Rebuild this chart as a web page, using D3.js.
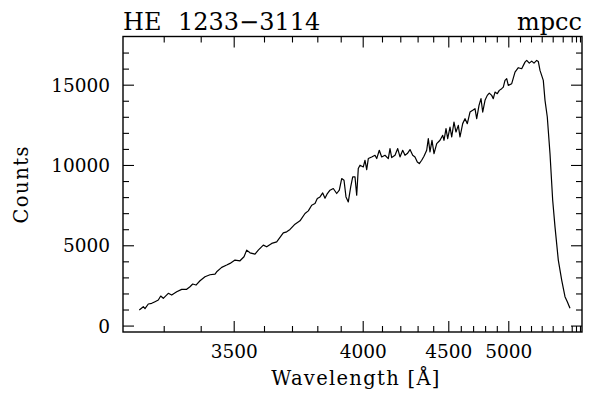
<!DOCTYPE html>
<html>
<head>
<meta charset="utf-8">
<script src="https://cdn.jsdelivr.net/npm/d3@7"></script>
<style>
  html, body { margin: 0; padding: 0; background: #fff; }
  svg { display: block; }
  text { font-family: "DejaVu Serif", serif; fill: #000; }
</style>
</head>
<body>
<svg id="chart" width="589" height="393"></svg>
<script>
// Objective-prism spectrum: counts per plate pixel
const specPixel = [
  5.43, 6.77, 7.33, 8.43, 9.57, 10.67, 11.77, 12.57, 13.43, 15.1,
  16.23, 17.9, 19.57, 21.23, 22.33, 23.23, 24.33, 25.67, 27.33, 29.0,
  30.67, 31.23, 32.9, 34.57, 35.67, 37.33, 39.0, 40.33, 41.23, 42.33,
  44.0, 45.1, 46.77, 47.9, 49.57, 51.23, 52.33, 53.43, 54.57, 55.67,
  57.33, 59.0, 60.67, 61.77, 62.9, 64.0, 64.77, 65.67, 66.57, 67.33,
  68.0, 69.0, 70.1, 71.23, 72.1, 72.9, 73.67, 74.33, 75.1, 75.9,
  76.57, 77.33, 77.9, 78.43, 79.0, 80.1, 80.67, 81.23, 81.77, 82.9,
  84.0, 84.57, 85.43, 86.23, 87.33, 88.43, 89.0, 89.57, 90.67, 91.57,
  92.33, 93.23, 94.0, 94.77, 95.67, 96.57, 97.33, 98.1, 98.77, 99.57,
  100.33, 101.23, 101.77, 102.33, 103.0, 103.67, 104.57, 105.67, 106.57, 107.0,
  107.67, 108.23, 109.0, 109.57, 110.33, 111.0, 111.77, 112.33, 113.23, 114.0,
  114.77, 115.67, 116.57, 117.33, 117.9, 118.67, 119.33, 119.9, 120.67, 121.43,
  122.1, 122.9, 123.43, 124.0, 124.77, 125.43, 126.23, 126.77, 127.33, 127.9,
  128.43, 129.57, 130.67, 131.77, 132.9, 134.0, 134.57, 135.43, 136.23, 137.0,
  137.9, 138.43, 139.0, 140.1, 140.67, 141.43, 142.33, 143.23, 144.0, 145.1,
  146.23, 147.33, 148.1, 149.0
];
const specCounts = [
  970, 1175, 1050, 1343, 1386, 1486, 1591, 1840, 1697, 2008,
  1902, 2107, 2256, 2256, 2418, 2586, 2524, 2791, 3040, 3164,
  3207, 3350, 3624, 3767, 3873, 4078, 4034, 4283, 4699, 4531,
  4451, 4699, 5010, 4904, 5116, 5215, 5489, 5775, 5837, 5986,
  6315, 6521, 6981, 7142, 7496, 7602, 7913, 8012, 8261, 7931,
  8180, 8429, 8535, 8224, 8429, 9156, 9050, 8012, 7702, 8634,
  9256, 9256, 8118, 9778, 9983, 9877, 10294, 9716, 10400, 10499,
  10605, 10400, 10915, 10499, 10605, 10400, 11021, 10462, 10605, 11021,
  10499, 10915, 10605, 10710, 10959, 10605, 10499, 10188, 10088, 10294,
  10542, 10915, 11643, 10810, 11537, 10710, 11332, 11537, 11848, 11537,
  12264, 11643, 12364, 11742, 12674, 12053, 12469, 11742, 12575, 12886,
  12575, 13296, 13402, 13507, 12886, 13713, 14129, 13296, 14023, 14334,
  14477, 14334, 14129, 14539, 14440, 14645, 14750, 14850, 15266, 15372,
  14956, 15061, 15782, 16056, 15994, 16404, 16510, 16342, 16466, 16342,
  16510, 16448, 15888, 15266, 14023, 12985, 10710, 7807, 6148, 4078,
  2834, 1796, 1486, 1075
];

// Dispersion relation: wavelength (Å) -> plate pixel
const dispLambda = [3300, 3400, 3500, 3600, 3700, 3800, 3900, 4000, 4100, 4200,
  4300, 4400, 4500, 4600, 4700, 4800, 4900, 5000, 5100, 5200,
  5300, 5400, 5500, 5600, 5700, 5800];
const dispPixel = [13.57, 25.9, 36.9, 47.0, 56.33, 64.77, 72.57, 79.9, 86.33, 92.43,
  98.2, 103.4, 108.43, 112.6, 116.7, 120.7, 124.6, 128.43, 132.33, 136.0,
  139.57, 143.23, 146.57, 149.57, 151.0, 152.33];

const xMajorTicks = [3500, 4000, 4500, 5000];
const xMinorTicks = dispLambda.filter(d => !xMajorTicks.includes(d));
const yMajorTicks = [0, 5000, 10000, 15000];
const yMinorTicks = d3.range(1000, 18000, 1000).filter(d => d % 5000 !== 0);

const title = "HE 1233\u22123114";
const tag = "mpcc";
const xLabel = "Wavelength [\u00C5]";
const yLabel = "Counts";

const frame = { left: 123, right: 582, top: 36.5, bottom: 332 };
const pixelDomain = [0, 153];
const countDomain = [-400, 18000];

const svg = d3.select("#chart");

const x = d3.scaleLinear().domain(pixelDomain).range([frame.left, frame.right]);
const y = d3.scaleLinear().domain(countDomain).range([frame.bottom, frame.top]);
// wavelength -> screen, through the dispersion table
const wl = d3.scaleLinear().domain(dispLambda).range(dispPixel.map(p => x(p)));

const MAJ = 11, MIN = 6;

function styleAxis(g) {
  g.select(".domain").remove();
  g.selectAll(".tick line").attr("stroke", "#000").attr("stroke-width", 1.1);
  g.selectAll("text").attr("font-family", "DejaVu Serif, serif").attr("font-size", 18.5).attr("fill", "#000");
}

// bottom axis
svg.append("g").attr("transform", `translate(0,${frame.bottom})`)
  .call(d3.axisBottom(wl).tickValues(xMinorTicks).tickSize(-MIN).tickFormat(""))
  .call(styleAxis);
svg.append("g").attr("transform", `translate(0,${frame.bottom})`)
  .call(d3.axisBottom(wl).tickValues(xMajorTicks).tickSize(-MAJ).tickPadding(13).tickFormat(d3.format("d")))
  .call(styleAxis);
// top axis
svg.append("g").attr("transform", `translate(0,${frame.top})`)
  .call(d3.axisTop(wl).tickValues(xMinorTicks).tickSize(-MIN).tickFormat(""))
  .call(styleAxis);
svg.append("g").attr("transform", `translate(0,${frame.top})`)
  .call(d3.axisTop(wl).tickValues(xMajorTicks).tickSize(-MAJ).tickFormat(""))
  .call(styleAxis);
// left axis
svg.append("g").attr("transform", `translate(${frame.left},0)`)
  .call(d3.axisLeft(y).tickValues(yMinorTicks).tickSize(-MIN).tickFormat(""))
  .call(styleAxis);
const yl = svg.append("g").attr("transform", `translate(${frame.left},0)`)
  .call(d3.axisLeft(y).tickValues(yMajorTicks).tickSize(-MAJ).tickPadding(13).tickFormat(d3.format("d")))
  .call(styleAxis);
yl.selectAll("text").attr("dy", "0.36em");
// right axis
svg.append("g").attr("transform", `translate(${frame.right},0)`)
  .call(d3.axisRight(y).tickValues(yMinorTicks).tickSize(-MIN).tickFormat(""))
  .call(styleAxis);
svg.append("g").attr("transform", `translate(${frame.right},0)`)
  .call(d3.axisRight(y).tickValues(yMajorTicks).tickSize(-MAJ).tickFormat(""))
  .call(styleAxis);

// frame
svg.append("rect")
  .attr("x", frame.left).attr("y", frame.top)
  .attr("width", frame.right - frame.left).attr("height", frame.bottom - frame.top)
  .attr("fill", "none").attr("stroke", "#000").attr("stroke-width", 1.4);

// spectrum
const pts = specPixel.map((p, i) => [p, specCounts[i]]);
svg.append("path")
  .datum(pts)
  .attr("fill", "none")
  .attr("stroke", "#000")
  .attr("stroke-width", 1.2)
  .attr("stroke-linejoin", "round")
  .attr("d", d3.line().x(d => x(d[0])).y(d => y(d[1])));

// titles
const parts = title.split(" ");
const t = svg.append("text").attr("x", frame.left).attr("y", 30).attr("font-size", 24);
t.append("tspan").text(parts[0]);
t.append("tspan").attr("x", 178).text(parts[1]);

svg.append("text").attr("x", frame.right).attr("y", 30)
  .attr("text-anchor", "end").attr("font-size", 24).text(tag);

svg.append("text").attr("x", 356).attr("y", 385)
  .attr("text-anchor", "middle").attr("font-size", 19.5)
  .attr("letter-spacing", 1.3).text(xLabel);

svg.append("text")
  .attr("transform", `translate(28,${(frame.top + frame.bottom) / 2}) rotate(-90)`)
  .attr("text-anchor", "middle").attr("font-size", 19.5)
  .attr("letter-spacing", 1.5).text(yLabel);
</script>
</body>
</html>
